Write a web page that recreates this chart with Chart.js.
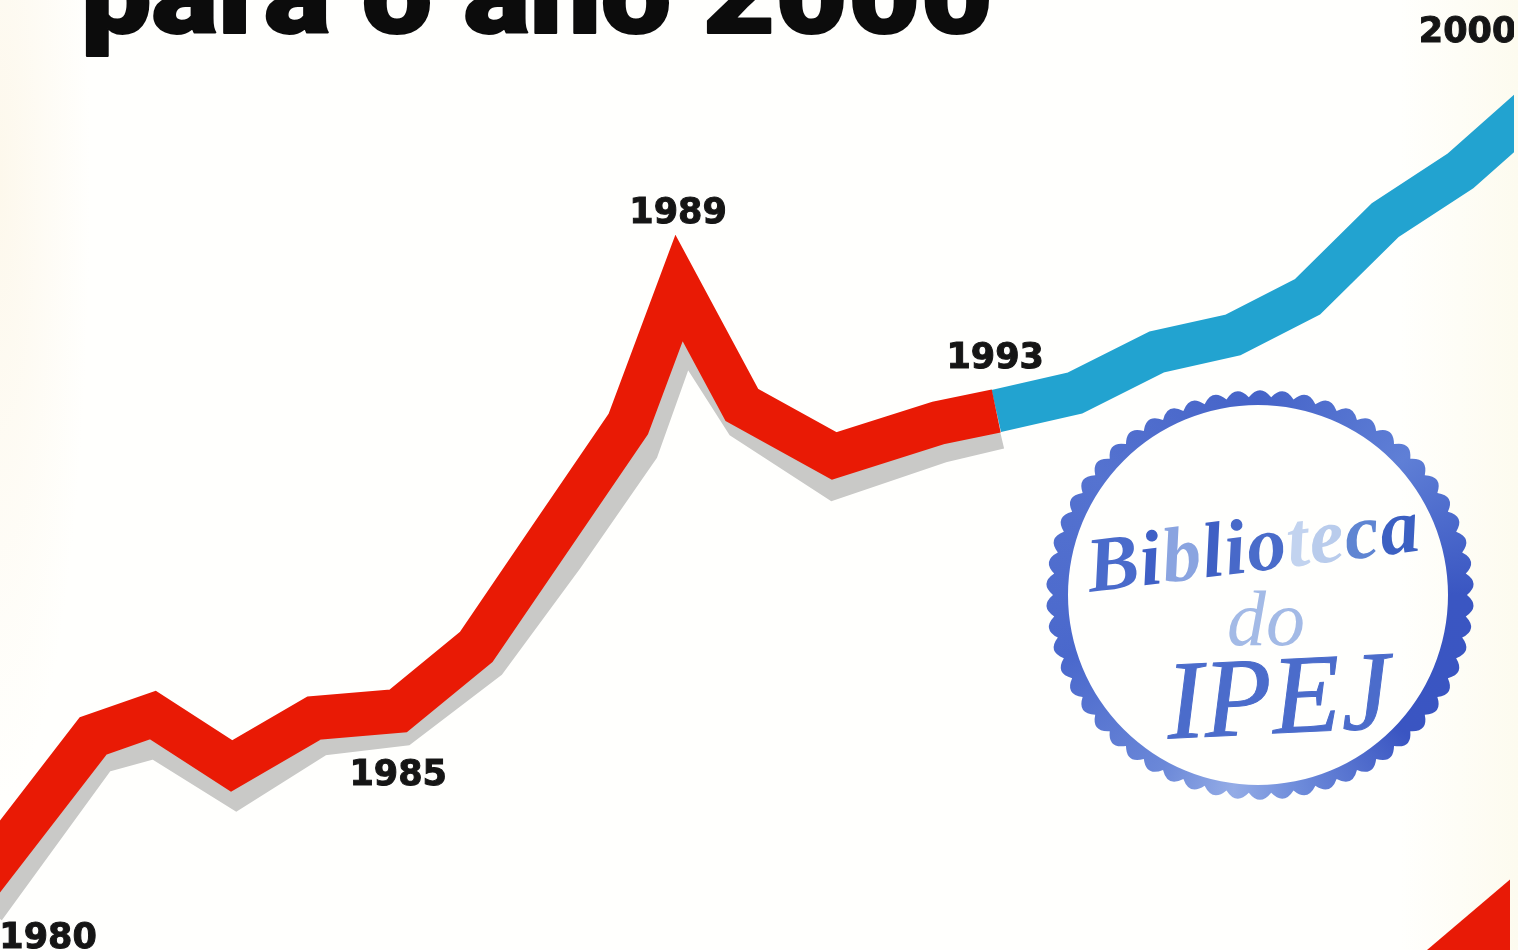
<!DOCTYPE html>
<html lang="pt">
<head>
<meta charset="utf-8">
<title>para o ano 2000</title>
<script src="https://cdn.jsdelivr.net/npm/chart.js@4/dist/chart.umd.js"></script>
<style>
  html, body { margin: 0; padding: 0; width: 1518px; height: 950px; overflow: hidden;
    background:
      radial-gradient(ellipse 90px 620px at 0 180px, #fdf8ec, rgba(253,248,236,0)),
      linear-gradient(90deg, #fffffd 0, #fffffd 1400px, #fdfbef 1518px); }
  canvas { display: block; position: absolute; left: 0; top: 0; }
</style>
</head>
<body>
<canvas id="chart" width="1514" height="950"></canvas>
<script>
// Time positions of the vertices along the drawn timeline, and the index read at each one.
const pastTime   = [1980.00, 1981.48, 1982.27, 1983.31, 1984.40, 1985.51, 1986.54, 1987.54, 1988.55, 1989.22, 1990.05, 1991.27, 1992.64, 1993.41];
const pastValues = [7.26, 22.53, 24.74, 19.37, 24.42, 25.16, 31.89, 43.58, 55.37, 69.68, 57.37, 52.0, 55.47, 56.74];

const shadowTime   = [1980.05, 1981.54, 1982.31, 1983.37, 1984.46, 1985.55, 1986.68, 1987.69, 1988.68, 1989.27, 1990.09, 1991.27, 1992.67, 1993.45];
const shadowValues = [4.42, 20.74, 22.42, 17.16, 22.63, 23.68, 30.53, 41.47, 52.84, 66.0, 55.79, 49.68, 53.47, 54.95];

const projectedTime   = [1993.41, 1994.45, 1995.53, 1996.54, 1997.52, 1998.55, 1999.54, 2000.72];
const projectedValues = [56.74, 58.63, 62.95, 64.74, 68.74, 76.84, 82.0, 90.32];

// Start of the next band, of which only a corner enters the page.
const cornerTime   = [1998.81, 2000.99];
const cornerValues = [-6.11, 8.63];

const yearLabels = ['1980', '1985', '1989', '1993', '2000'];
const yearLabelPoints = [
  { time: pastTime, values: pastValues, index: 0, dx: 67, dy: 67 },
  { time: pastTime, values: pastValues, index: 5, dx: 0, dy: 74 },
  { time: pastTime, values: pastValues, index: 9, dx: -1, dy: -65 },
  { time: pastTime, values: pastValues, index: 13, dx: -1, dy: -43 },
  { time: projectedTime, values: projectedValues, index: 7, dx: -82, dy: -50 }
];

const headline = 'para o ano 2000';

const toPoints = (xs, ys) => xs.map((x, i) => ({ x, y: ys[i] }));

function band(data, color, width, extra) {
  return Object.assign({
    data, borderColor: color, borderWidth: width, pointRadius: 0, tension: 0,
    borderJoinStyle: 'miter', borderCapStyle: 'butt', fill: false
  }, extra || {});
}

// Year captions, placed relative to the vertex each one names.
const yearCaptions = {
  id: 'yearCaptions',
  afterDatasetsDraw(chart) {
    const { ctx, scales: { x, y } } = chart;
    ctx.save();
    ctx.fillStyle = '#151515';
    ctx.strokeStyle = '#151515';
    ctx.lineWidth = 1;
    ctx.font = 'bold 35px "DejaVu Sans"';
    ctx.textAlign = 'center';
    ctx.textBaseline = 'alphabetic';
    yearLabels.forEach((text, i) => {
      const p = yearLabelPoints[i];
      const px = x.getPixelForValue(p.time[p.index]) + p.dx;
      const py = y.getPixelForValue(p.values[p.index]) + p.dy;
      ctx.strokeText(text, px, py);
      ctx.fillText(text, px, py);
    });
    ctx.restore();
  }
};

// Headline along the top of the sheet, stretched to the width of a black display cut.
const headlineText = {
  id: 'headlineText',
  afterDraw(chart) {
    const { ctx } = chart;
    ctx.save();
    ctx.translate(81, 33);
    ctx.scale(1.1, 1);
    ctx.fillStyle = '#0c0c0c';
    ctx.strokeStyle = '#0c0c0c';
    ctx.lineWidth = 2;
    ctx.lineJoin = 'round';
    ctx.font = '900 114px Roboto';
    ctx.textBaseline = 'alphabetic';
    ctx.strokeText(headline, 0, 0);
    ctx.fillText(headline, 0, 0);
    ctx.restore();
  }
};

// Library stamp: scalloped ring with three lines of lettering.
const libraryStamp = {
  id: 'libraryStamp',
  afterDraw(chart) {
    const { ctx } = chart;
    const cx = 1258, cy = 595, inner = 190, teeth = 58;
    const rim = (a, grow) => [cx + 2 + Math.cos(a) * (207 + grow), cy + Math.sin(a) * (198 + grow)];
    ctx.save();

    ctx.beginPath();
    ctx.moveTo(...rim(0, 0));
    for (let i = 0; i < teeth; i++) {
      const step = Math.PI * 2 / teeth;
      const tip = rim((i + 0.5) * step, 14);
      const end = rim((i + 1) * step, 0);
      ctx.quadraticCurveTo(tip[0], tip[1], end[0], end[1]);
    }
    ctx.closePath();
    ctx.moveTo(cx + inner, cy);
    ctx.arc(cx, cy, inner, 0, Math.PI * 2, true);
    const ink = ctx.createConicGradient(0, cx, cy);
    ink.addColorStop(0.00, '#3a56c2');
    ink.addColorStop(0.12, '#3a55c2');
    ink.addColorStop(0.22, '#6f8ddb');
    ink.addColorStop(0.27, '#94ace6');
    ink.addColorStop(0.33, '#6b88d8');
    ink.addColorStop(0.45, '#4a68cc');
    ink.addColorStop(0.60, '#5573d0');
    ink.addColorStop(0.75, '#4563c8');
    ink.addColorStop(0.88, '#5f7fd6');
    ink.addColorStop(1.00, '#3a56c2');
    ctx.fillStyle = ink;
    ctx.fill('evenodd');

    // First line: the ink thins out towards "te".
    const word = 'Biblioteca';
    const wordColors = ['#4a6bcb', '#3f60c6', '#8aa4e0', '#3f60c4', '#4869c9', '#4a6cca', '#c2d3ef', '#b9ccec', '#5f85d2', '#3c60c2'];
    ctx.save();
    ctx.translate(1090, 592);
    ctx.rotate(-0.125);
    ctx.font = 'italic bold 78px "Liberation Serif"';
    ctx.textBaseline = 'alphabetic';
    let pen = 0;
    [...word].forEach((ch, i) => {
      ctx.fillStyle = wordColors[i];
      ctx.fillText(ch, pen, 0);
      pen += ctx.measureText(ch).width + 1;
    });
    ctx.restore();

    ctx.fillStyle = '#a3bae6';
    ctx.font = 'italic 78px "Liberation Serif"';
    ctx.textAlign = 'center';
    ctx.fillText('do', 1266, 645);

    ctx.save();
    ctx.translate(1280, 733);
    ctx.rotate(-0.05);
    ctx.fillStyle = '#4b6ccb';
    ctx.strokeStyle = '#4b6ccb';
    ctx.lineWidth = 1;
    ctx.font = 'italic 112px "Liberation Serif"';
    ctx.textAlign = 'center';
    ctx.strokeText('IPEJ', 0, 0);
    ctx.fillText('IPEJ', 0, 0);
    ctx.restore();

    ctx.restore();
  }
};

new Chart(document.getElementById('chart'), {
  type: 'line',
  data: {
    datasets: [
      band(toPoints(pastTime, pastValues), '#e91a05', 44),
      band(toPoints(projectedTime, projectedValues), '#22a3d0', 43),
      band(toPoints(shadowTime, shadowValues), '#c9c9c7', 42),
      band(toPoints(cornerTime, cornerValues), '#e81a06', 60, { clip: { left: 0, top: 0, right: -4, bottom: 0 } })
    ]
  },
  options: {
    responsive: false,
    devicePixelRatio: 1,
    animation: false,
    layout: { padding: 0 },
    plugins: { legend: { display: false }, tooltip: { enabled: false }, title: { display: false } },
    scales: {
      x: { type: 'linear', min: 1980.25, max: 2000.25, display: false },
      y: { type: 'linear', min: 0, max: 100, display: false }
    }
  },
  plugins: [yearCaptions, headlineText, libraryStamp]
});
</script>
</body>
</html>
